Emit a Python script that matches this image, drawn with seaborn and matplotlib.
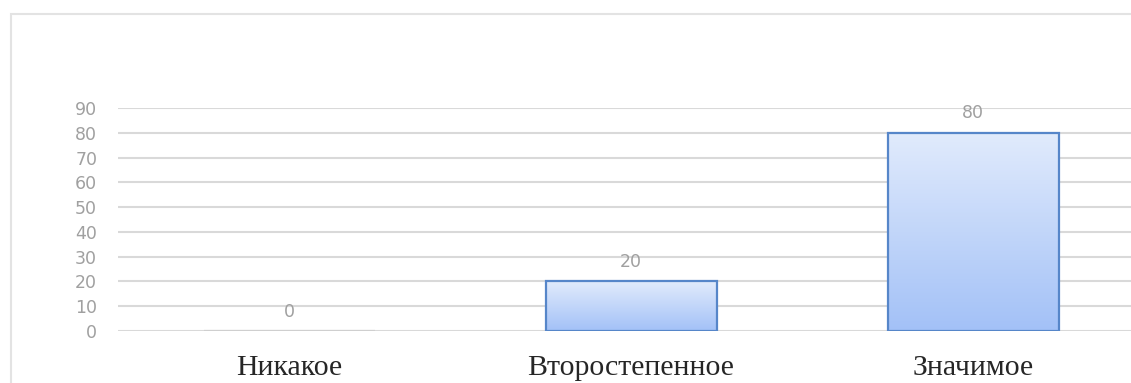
import numpy as np
import matplotlib
matplotlib.use("Agg")
import matplotlib.pyplot as plt
from matplotlib.colors import LinearSegmentedColormap
from matplotlib.patches import Rectangle
import seaborn as sns
import pandas as pd

categories = ["Никакое", "Второстепенное", "Значимое"]
values = [0, 20, 80]
y_ticks = [0, 10, 20, 30, 40, 50, 60, 70, 80, 90]

sns.set_theme(style="white")
plt.rcParams["font.family"] = ["DejaVu Sans"]

W, H = 1131, 383
fig = plt.figure(figsize=(W / 100, H / 100), dpi=100)
fig.patch.set_facecolor("white")

# plot area in pixel terms: left 118, bottom at y=331, top at y=108, runs past the right edge
left, right = 118, W
bottom, top = H - 331, H - 108
ax = fig.add_axes([left / W, bottom / H, (right - left) / W, (top - bottom) / H])

df = pd.DataFrame({"category": categories, "value": values})
sns.barplot(data=df, x="category", y="value", ax=ax, width=0.5,
            color="#c5d8fa", edgecolor="#5686c9", linewidth=1.6, zorder=3)

ax.set_yticks(y_ticks)
ax.set_yticklabels([str(t) for t in y_ticks])
ax.grid(axis="y", color="#d9d9d9", linewidth=1.5, zorder=0)
ax.set_axisbelow(True)
for s in ax.spines.values():
    s.set_visible(False)
ax.tick_params(axis="y", length=0, pad=15, labelsize=12.5, labelcolor="#a0a0a0")
ax.tick_params(axis="x", length=0, pad=17)
for lab in ax.get_xticklabels():
    lab.set_fontfamily("Liberation Serif")
    lab.set_fontsize(21.5)
    lab.set_color("#262626")
ax.set_xlabel("")
ax.set_ylabel("")

# vertical gradient fill inside each bar; empty bars keep only a faint outline
cmap = LinearSegmentedColormap.from_list("barfill", ["#a3c1f7", "#e1ebfc"])
grad = np.linspace(0, 1, 256).reshape(-1, 1)
for p in ax.patches:
    x0, y0 = p.get_x(), p.get_y()
    w, h = p.get_width(), p.get_height()
    if h <= 0:
        p.set_edgecolor("#cfcfcf")
        continue
    p.set_facecolor("none")
    im = ax.imshow(grad, cmap=cmap, origin="lower", aspect="auto",
                   extent=[x0, x0 + w, y0, y0 + h], zorder=2.5,
                   interpolation="bicubic")
    im.set_clip_path(p)

ax.set_xlim(-0.5, -0.5 + (right - left) / 342)
ax.set_ylim(0, 90)

# value labels above bars
for i, v in enumerate(values):
    ax.annotate(str(v), xy=(i, v), xytext=(0, 14), textcoords="offset points",
                ha="center", va="center", fontsize=12.5, color="#a0a0a0", zorder=4)

# outer chart frame
fig.patches.append(Rectangle((11 / W, -0.2), 2.0, (H - 14) / H + 0.2,
                             transform=fig.transFigure, fill=False,
                             edgecolor="#e3e3e3", linewidth=1.5))

fig.savefig("out.png", dpi=100, facecolor="white")
